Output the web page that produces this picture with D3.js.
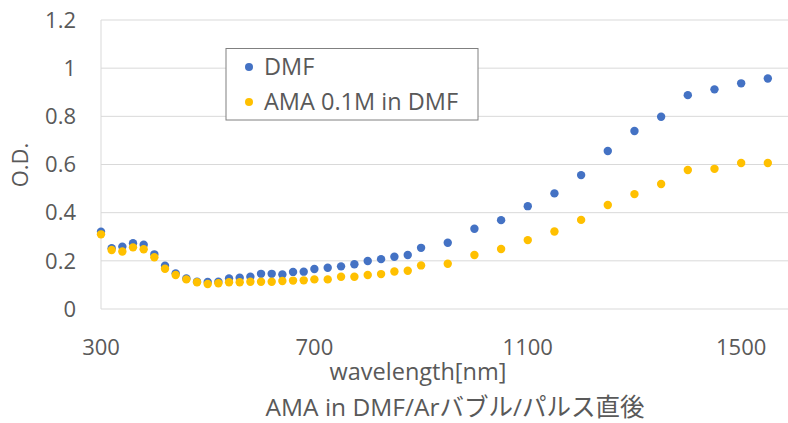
<!DOCTYPE html>
<html><head><meta charset="utf-8">
<script src="https://cdn.jsdelivr.net/npm/d3@7"></script>
<style>body{margin:0;background:#fff}svg{display:block}text{font-family:"Open Sans","Noto Sans CJK JP",sans-serif;fill:#595959}</style>
</head><body><svg id="c" width="788" height="423"></svg>
<script>
const wavelengths=[300,320,340,360,380,400,420,440,460,480,500,520,540,560,580,600,620,640,660,680,700,725,750,775,800,825,850,875,900,950,1000,1050,1100,1150,1200,1250,1300,1350,1400,1450,1500,1550];
const dmf=[0.321,0.252,0.259,0.273,0.267,0.227,0.180,0.148,0.127,0.113,0.112,0.113,0.127,0.130,0.134,0.146,0.146,0.143,0.154,0.155,0.166,0.171,0.177,0.186,0.199,0.207,0.217,0.224,0.254,0.275,0.333,0.369,0.427,0.480,0.556,0.656,0.739,0.798,0.888,0.912,0.937,0.957];
const ama=[0.310,0.245,0.239,0.256,0.248,0.215,0.167,0.141,0.123,0.111,0.104,0.107,0.111,0.111,0.113,0.113,0.113,0.116,0.118,0.119,0.123,0.123,0.134,0.134,0.141,0.145,0.156,0.159,0.181,0.188,0.224,0.249,0.286,0.322,0.370,0.432,0.477,0.519,0.577,0.582,0.606,0.606];
const xTicks=[300,700,1100,1500];
const yTicks=[0,0.2,0.4,0.6,0.8,1.0,1.2];
const seriesNames=["DMF","AMA 0.1M in DMF"];
const colors=["#4472C4","#FFC000"];

const svg=d3.select("#c");
const x=d3.scaleLinear().domain([300,1600]).range([101,794.5]);
const y=d3.scaleLinear().domain([0,1.2]).range([309,20]);

// gridlines
svg.append("g").selectAll("line").data(yTicks.filter(d=>d>0)).join("line")
 .attr("x1",101).attr("x2",788).attr("y1",d=>y(d)).attr("y2",d=>y(d))
 .attr("stroke","#d9d9d9").attr("stroke-width",1);
// axes lines
svg.append("line").attr("x1",101).attr("x2",788).attr("y1",y(0)).attr("y2",y(0)).attr("stroke","#d9d9d9");
svg.append("line").attr("x1",101).attr("x2",101).attr("y1",y(0)).attr("y2",y(1.2)).attr("stroke","#d9d9d9");

// y tick labels
svg.append("g").selectAll("text").data(yTicks).join("text")
 .attr("x",76).attr("y",d=>y(d)).attr("dy","0.35em").attr("text-anchor","end")
 .attr("font-size",22).text(d=>d3.format("")(+d.toFixed(1)));
// x tick labels
svg.append("g").selectAll("text").data(xTicks).join("text")
 .attr("x",d=>x(d)).attr("y",354.5).attr("text-anchor","middle")
 .attr("font-size",22).text(d=>d);

svg.append("text").attr("x",418).attr("y",380).attr("text-anchor","middle").attr("font-size",23.5).text("wavelength[nm]");
svg.append("text").attr("transform","translate(28,165) rotate(-90)").attr("text-anchor","middle").attr("font-size",22).text("O.D.");
svg.append("text").attr("x",455).attr("y",415.5).attr("text-anchor","middle").attr("font-size",24.5).text("AMA in DMF/Arバブル/パルス直後");

// points
[dmf,ama].forEach((vals,i)=>{
 svg.append("g").selectAll("circle").data(wavelengths.map((w,j)=>[w,vals[j]])).join("circle")
  .attr("cx",d=>x(d[0])).attr("cy",d=>y(d[1])).attr("r",4.2).attr("fill",colors[i]);
});

// legend
const lg=svg.append("g");
lg.append("rect").attr("x",226).attr("y",48.5).attr("width",252).attr("height",71.5).attr("fill","#fff").attr("stroke","#808080");
seriesNames.forEach((n,i)=>{
 lg.append("circle").attr("cx",249).attr("cy",67+i*35).attr("r",4).attr("fill",colors[i]);
 lg.append("text").attr("x",264).attr("y",67+i*35).attr("dy","0.35em").attr("font-size",23.5).text(n);
});
</script></body></html>
